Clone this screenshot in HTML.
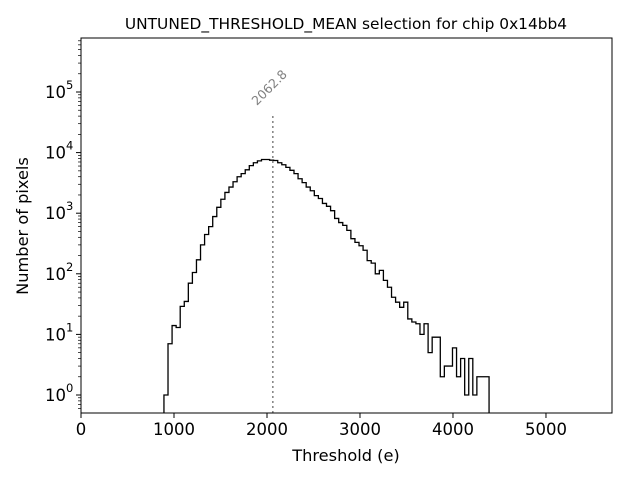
<!DOCTYPE html>
<html><head><meta charset="utf-8"><style>
html,body{margin:0;padding:0;background:#fff;}
svg{display:block;font-family:"DejaVu Sans","Liberation Sans",sans-serif;}
</style></head><body>
<svg id="chart" width="640" height="480" viewBox="0 0 640 480">
<rect x="0" y="0" width="640" height="480" fill="#fff"/>
<text x="346" y="29" text-anchor="middle" font-size="15.4" fill="#000">UNTUNED_THRESHOLD_MEAN selection for chip 0x14bb4</text>
<text x="346" y="461" text-anchor="middle" font-size="16.2" fill="#000">Threshold (e)</text>
<text transform="translate(28,226) rotate(-90)" text-anchor="middle" font-size="16.2" fill="#000">Number of pixels</text>
<g id="plot"></g>
</svg>
<script>
const binStart = 892;
const binWidth = 43.7;
const counts = [1,7,14,13,29,35,70,105,170,300,445,600,880,1250,1700,2200,2700,3300,4000,4500,5200,6100,6800,7300,7700,7700,7500,7400,6800,6300,5700,5100,4500,3700,3200,2700,2350,1950,1750,1450,1300,1100,820,700,630,520,380,330,290,245,165,150,100,114,78,60,41,34,28,34,18,16,15,10,15,5,9,9,2,3,3,6,2,4,1,4,1,2,2,2];
const xTicks = [0,1000,2000,3000,4000,5000];
const yTickExps = [0,1,2,3,4,5];
const meanValue = 2062.8;
const meanLineTop = 45000;

const L=81,R=612,T=38,B=413;
const xMin=0,xMax=5710;
const yZeroPx=395, decade=60.6;
const sx=v=>L+(v-xMin)/(xMax-xMin)*(R-L);
const sy=v=>yZeroPx-decade*Math.log10(v);
const NS="http://www.w3.org/2000/svg";
const g=document.getElementById('plot');
function mk(tag,attrs){const e=document.createElementNS(NS,tag);for(const k in attrs)e.setAttribute(k,attrs[k]);g.appendChild(e);return e;}

const defs=mk('defs',{});
const cp=document.createElementNS(NS,'clipPath');cp.setAttribute('id','clip');
const cr=document.createElementNS(NS,'rect');cr.setAttribute('x',L);cr.setAttribute('y',T);cr.setAttribute('width',R-L);cr.setAttribute('height',B-T);
cp.appendChild(cr);defs.appendChild(cp);

let d='M'+sx(binStart)+','+(B+5);
counts.forEach((c,i)=>{
  const x0=sx(binStart+i*binWidth),x1=sx(binStart+(i+1)*binWidth);
  const y=c>0?sy(c):B+5;
  d+=' L'+x0+','+y+' L'+x1+','+y;
});
d+=' L'+sx(binStart+counts.length*binWidth)+','+(B+5);
const hist=mk('path',{d:d,fill:'none',stroke:'#000','stroke-width':1.3,'clip-path':'url(#clip)'});



const mx=sx(meanValue);
const ml=mk('line',{x1:mx,x2:mx,y1:B,y2:sy(meanLineTop),stroke:'#808080','stroke-width':1.5,'stroke-dasharray':'2,3'});


const mt=mk('text',{transform:'translate('+(mx-16)+','+(sy(meanLineTop)-7)+') rotate(-45)','font-size':12.5,fill:'#808080'});
mt.textContent=meanValue.toFixed(1);



const fr=mk('rect',{x:L,y:T,width:R-L,height:B-T,fill:'none',stroke:'#000','stroke-width':1});



xTicks.forEach(v=>{
  const x=sx(v);
  const t=mk('line',{x1:x,x2:x,y1:B,y2:B+5,stroke:'#000','stroke-width':1});
  
  
  const lb=mk('text',{x:x,y:B+22,'text-anchor':'middle','font-size':16.5,fill:'#000'});
  lb.textContent=String(v);
  
  
});

yTickExps.forEach(e=>{
  const y=sy(Math.pow(10,e));
  const t=mk('line',{x1:L-5,x2:L,y1:y,y2:y,stroke:'#000','stroke-width':1});
  
  
  const lb=mk('text',{x:L-15,y:y+6,'text-anchor':'end','font-size':16.5,fill:'#000'});
  lb.textContent='10';
  
  
  const sp=mk('text',{x:L-15,y:y-3,'text-anchor':'start','font-size':11.5,fill:'#000'});
  sp.textContent=String(e);
  
  
});
for(let e=-1;e<=5;e++){
  for(let m=2;m<=9;m++){
    const y=sy(m*Math.pow(10,e));
    if(y<T||y>B)continue;
    const t=mk('line',{x1:L-3,x2:L,y1:y,y2:y,stroke:'#000','stroke-width':0.7});
    
    
  }
}
</script>
</body></html>
